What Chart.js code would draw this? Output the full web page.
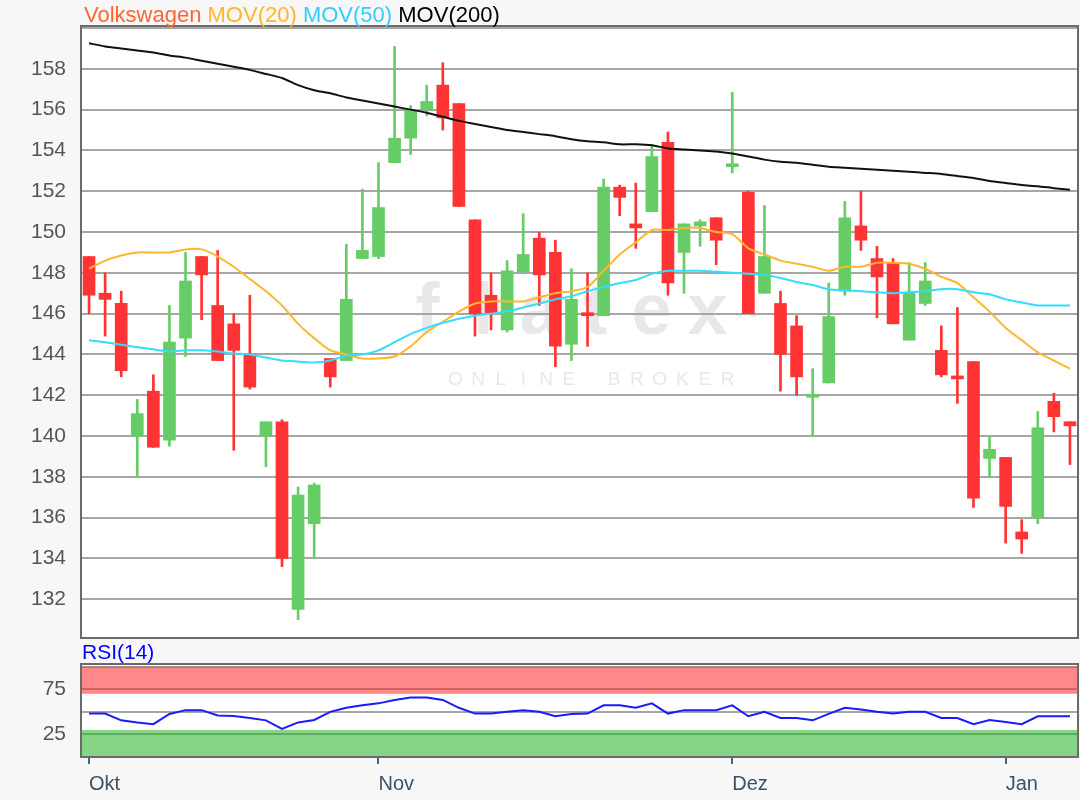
<!DOCTYPE html>
<html lang="de">
<head>
<meta charset="utf-8">
<title>Volkswagen</title>
<script src="https://cdn.jsdelivr.net/npm/chart.js@4"></script>
<style>
  body { margin: 0; background: #f7f7f7; font-family: "Liberation Sans", Arial, sans-serif; }
  #rahmen { position: relative; width: 1080px; height: 800px; }
  canvas { position: absolute; left: 0; }
  #kurs { top: 0; }
  #rsi { top: 640px; }
  .titel { position: absolute; font-size: 22px; white-space: nowrap; }
</style>
</head>
<body>
<div id="rahmen">
  <canvas id="kurs" width="1080" height="640"></canvas>
  <canvas id="rsi" width="1080" height="160"></canvas>
  <div class="titel" style="left:84px;top:2px">
    <span style="color:#ff6633">Volkswagen</span> <span style="color:#ffb52e">MOV(20)</span> <span style="color:#33ccff">MOV(50)</span> <span style="color:#000">MOV(200)</span>
  </div>
  <div class="titel" style="left:82px;top:640px;color:#0000ff;font-size:21px">RSI(14)</div>
</div>
<script>
// Kursdaten (Tageskerzen)
const open = [148.8,147.0,146.5,140.0,142.2,139.8,144.8,148.8,146.4,145.5,
  144.0,140.0,140.7,131.5,135.7,143.8,143.7,148.7,148.8,153.4,
  154.6,156.0,157.2,156.3,150.6,146.9,145.2,148.05,149.7,149.0,
  144.5,146.0,145.9,152.2,150.4,151.0,154.4,149.0,150.3,150.7,
  153.2,151.95,147.0,146.5,145.4,141.9,142.6,147.1,150.3,148.7,
  148.5,144.7,146.5,144.2,142.9,143.65,138.9,138.95,135.3,136.0,
  141.7,140.7];
const high = [148.8,148.0,147.1,141.8,143.0,146.4,149.0,148.8,149.1,146.0,
  146.9,140.7,140.8,137.5,137.7,143.8,149.4,152.1,153.4,159.1,
  156.2,157.2,158.3,156.3,150.6,148.0,148.6,150.9,150.0,149.6,
  148.2,148.0,152.6,152.3,152.4,154.3,154.9,150.4,150.6,150.7,
  156.85,152.0,151.3,147.1,145.9,143.3,147.5,151.5,152.0,149.3,
  148.7,148.5,148.5,145.4,146.3,143.65,140.0,138.95,135.9,141.2,
  142.1,140.7];
const low = [146.0,144.9,142.9,138.0,139.45,139.5,143.9,145.7,143.7,139.3,
  142.3,138.5,133.6,131.0,134.0,142.4,143.7,148.7,148.7,153.4,
  153.8,155.7,155.0,151.25,144.9,145.2,145.1,148.0,146.4,143.4,
  143.7,144.4,145.9,150.8,149.2,151.0,146.9,147.0,149.3,148.4,
  152.9,146.0,147.0,142.2,142.0,140.0,142.6,146.9,149.1,145.8,
  145.5,144.7,146.4,142.9,141.6,136.5,138.0,134.75,134.25,135.7,
  140.2,138.6];
const close = [146.9,146.7,143.2,141.1,139.45,144.6,147.6,147.9,143.7,144.2,
  142.4,140.7,134.0,137.1,137.6,142.9,146.7,149.1,151.2,154.6,
  156.0,156.4,155.6,151.25,146.0,146.05,148.1,148.9,147.9,144.4,
  146.7,145.9,152.2,151.7,150.2,153.7,147.5,150.4,150.5,149.6,
  153.3,146.0,148.8,144.0,142.9,141.95,145.85,150.7,149.6,147.8,
  145.5,147.0,147.6,143.0,142.8,136.95,139.35,136.55,134.95,140.4,
  140.95,140.5];

// gleitende Durchschnitte
const mov20 = [148.2,148.6,148.85,149.0,149.0,149.0,149.15,149.15,148.8,148.3,
  147.7,147.1,146.4,145.5,144.8,144.2,144.0,143.8,143.8,143.9,
  144.4,145.1,145.6,146.1,146.5,146.6,146.6,146.6,146.8,147.0,
  147.1,147.3,148.1,148.9,149.5,150.1,150.1,150.2,150.2,150.0,
  149.9,149.2,148.9,148.6,148.45,148.3,148.1,148.3,148.3,148.5,
  148.5,148.45,148.2,147.8,147.5,146.8,146.1,145.3,144.7,144.1,
  143.7,143.3];
const mov50 = [144.7,144.6,144.47,144.35,144.25,144.15,144.2,144.2,144.15,144.05,
  144.0,143.85,143.7,143.65,143.6,143.7,143.95,144.0,144.2,144.6,
  145.0,145.3,145.55,145.75,145.9,146.0,146.1,146.3,146.5,146.7,
  146.85,147.1,147.3,147.5,147.65,147.95,148.1,148.1,148.1,148.05,
  148.0,147.95,147.9,147.75,147.55,147.4,147.2,147.15,147.1,147.05,
  147.0,147.05,147.1,147.2,147.2,147.05,146.95,146.7,146.55,146.4,
  146.4,146.4];
const mov200 = [159.25,159.1,159.0,158.9,158.8,158.65,158.55,158.4,158.25,158.1,
  157.95,157.75,157.55,157.2,156.95,156.8,156.6,156.45,156.3,156.15,
  156.0,155.85,155.65,155.45,155.3,155.15,155.0,154.9,154.8,154.7,
  154.55,154.45,154.4,154.3,154.3,154.25,154.1,154.05,154.0,153.95,
  153.85,153.7,153.55,153.45,153.4,153.3,153.2,153.15,153.1,153.05,
  153.0,152.95,152.9,152.85,152.75,152.65,152.5,152.4,152.3,152.25,
  152.15,152.07];

// RSI(14)
const rsi = [48.1,48.1,40.6,38.3,36.4,47.7,51.9,51.9,45.9,45.5,
  43.2,40.6,31.2,38.3,41.0,50.0,54.5,57.2,59.4,63.2,
  65.8,65.8,63.2,54.5,48.1,48.1,50.0,51.9,50.0,45.1,
  47.7,48.1,57.2,57.2,54.5,59.4,48.1,51.9,51.9,51.9,
  57.2,45.1,50.0,43.2,43.2,40.6,47.7,54.5,52.6,50.0,
  48.1,50.0,50.0,43.2,43.2,36.4,41.0,38.7,36.4,45.1,
  45.1,45.1];

const monate = ['Okt', 'Nov', 'Dez', 'Jan'];
const monatsIndex = [0, 18, 40, 57];
const kursTicks = [132,134,136,138,140,142,144,146,148,150,152,154,156,158,160];
const rsiTicks = [0, 25, 50, 75, 100];
const ueberkauft = [70, 100];
const ueberverkauft = [0, 30];

const tage = open.map((o, i) => {
  let k = monatsIndex.indexOf(i);
  return k >= 0 ? monate[k] : '';
});

const schrift = '"Liberation Sans", Arial, sans-serif';
const rot = '#ff3333';
const gruen = '#66cc66';
function farbe(c) {
  return close[c.dataIndex] >= open[c.dataIndex] ? gruen : rot;
}

function gesperrt(ctx, text, x, y, schritt) {
  let w = schritt * (text.length - 1);
  for (let i = 0; i < text.length; i++) {
    ctx.fillText(text[i], x - w / 2 + i * schritt, y);
  }
}

// y-Achse: feste Breite, keine Zusatzraender oben/unten
function achseFix(s) {
  s.width = 81;
  s.paddingTop = 0;
  s.paddingBottom = 0;
}

const hintergrund = {
  id: 'hintergrund',
  beforeDraw(chart, args, opts) {
    let a = chart.chartArea, ctx = chart.ctx;
    ctx.save();
    ctx.fillStyle = '#fff';
    ctx.fillRect(a.left, a.top, a.right - a.left, a.bottom - a.top);
    if (opts.logo) {
      let mx = (a.left + a.right) / 2, my = (a.top + a.bottom) / 2;
      ctx.fillStyle = '#e8e8e8';
      ctx.textAlign = 'center';
      ctx.font = 'bold 72px ' + schrift;
      gesperrt(ctx, 'flatex', mx - 12, my + 2, 56);
      ctx.font = 'bold 40px ' + schrift;
      ctx.fillText('·', mx + 175, my - 4);
      ctx.font = '19px ' + schrift;
      gesperrt(ctx, 'ONLINE BROKER', mx + 12, my + 53, 22.7);
    }
    ctx.restore();
  },
  afterDraw(chart) {
    let a = chart.chartArea, ctx = chart.ctx;
    ctx.save();
    ctx.strokeStyle = '#6b6b6b';
    ctx.lineWidth = 2;
    ctx.strokeRect(a.left, a.top, a.right - a.left, a.bottom - a.top);
    ctx.restore();
  }
};

const baender = {
  id: 'baender',
  beforeDatasetsDraw(chart) {
    let a = chart.chartArea, y = chart.scales.y, ctx = chart.ctx;
    ctx.save();
    ctx.fillStyle = 'rgba(255,40,40,0.55)';
    let o1 = y.getPixelForValue(ueberkauft[1]), o0 = y.getPixelForValue(ueberkauft[0]);
    ctx.fillRect(a.left, o1, a.right - a.left, o0 - o1);
    ctx.fillStyle = 'rgba(40,180,40,0.56)';
    let u1 = y.getPixelForValue(ueberverkauft[1]), u0 = y.getPixelForValue(ueberverkauft[0]);
    ctx.fillRect(a.left, u1, a.right - a.left, u0 - u1);
    ctx.restore();
  }
};

new Chart(document.getElementById('kurs'), {
  type: 'bar',
  data: {
    labels: tage,
    datasets: [
      { type: 'line', data: mov200, borderColor: '#111', borderWidth: 2, pointRadius: 0, tension: 0.2, order: 0 },
      { type: 'line', data: mov50, borderColor: '#33ddff', borderWidth: 2, pointRadius: 0, tension: 0.2, order: 0 },
      { type: 'line', data: mov20, borderColor: '#ffb52e', borderWidth: 2, pointRadius: 0, tension: 0.2, order: 0 },
      { data: open.map((o, i) => [o, close[i]]), backgroundColor: farbe, barThickness: 12, minBarLength: 3, grouped: false, order: 1 },
      { data: low.map((l, i) => [l, high[i]]), backgroundColor: farbe, barThickness: 2, grouped: false, order: 2 }
    ]
  },
  options: {
    responsive: false,
    animation: false,
    layout: { padding: { top: 26, right: 2, bottom: 2, left: 0 } },
    plugins: { legend: { display: false }, tooltip: { enabled: false }, hintergrund: { logo: true } },
    scales: {
      x: { display: false },
      y: {
        min: 130.1,
        max: 160.1,
        afterBuildTicks: s => { s.ticks = kursTicks.map(v => ({ value: v })); },
        afterFit: achseFix,
        grid: { color: '#a6a6a6', lineWidth: 2, drawTicks: false },
        border: { display: false },
        ticks: {
          color: '#555',
          padding: 15,
          autoSkip: false,
          font: { size: 21, family: schrift },
          callback: v => v >= 160 ? '' : v
        }
      }
    }
  },
  plugins: [hintergrund]
});

new Chart(document.getElementById('rsi'), {
  type: 'line',
  data: {
    labels: tage,
    datasets: [
      { data: rsi, borderColor: '#1a1aff', borderWidth: 2, pointRadius: 0, tension: 0 }
    ]
  },
  options: {
    responsive: false,
    animation: false,
    layout: { padding: { top: 24, right: 2, bottom: 0, left: 0 } },
    plugins: { legend: { display: false }, tooltip: { enabled: false }, hintergrund: { logo: false } },
    scales: {
      x: {
        offset: true,
        afterBuildTicks: s => { s.ticks = monatsIndex.map(v => ({ value: v })); },
        afterFit: s => { s.height = 43; },
        grid: { drawOnChartArea: false, offset: false, tickLength: 7, lineWidth: 2, color: '#4d6278', tickColor: '#4d6278' },
        border: { display: false },
        ticks: { align: 'start', autoSkip: false, maxRotation: 0, color: '#3d5166', padding: 8, font: { size: 20, family: schrift } }
      },
      y: {
        min: 0,
        max: 103,
        afterBuildTicks: s => { s.ticks = rsiTicks.map(v => ({ value: v })); },
        afterFit: achseFix,
        grid: { color: '#a6a6a6', lineWidth: 2, drawTicks: false },
        border: { display: false },
        ticks: {
          color: '#555',
          padding: 15,
          autoSkip: false,
          font: { size: 21, family: schrift },
          callback: v => (v === 25 || v === 75) ? v : ''
        }
      }
    }
  },
  plugins: [hintergrund, baender]
});
</script>
</body>
</html>
